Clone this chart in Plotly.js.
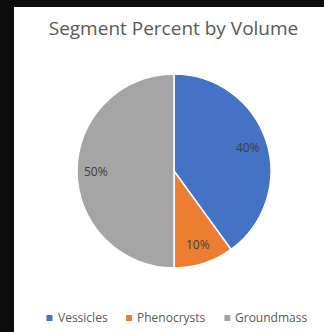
<!DOCTYPE html>
<html>
<head>
<meta charset="utf-8">
<script src="https://cdn.plot.ly/plotly-3.0.1.min.js"></script>
<style>
  html, body { margin: 0; padding: 0; background: #0d0d0d; width: 324px; height: 332px; overflow: hidden; }
  #chart { position: absolute; left: 14px; top: 7px; width: 310px; height: 325px; background: #fff; }
</style>
</head>
<body>
<div id="chart"></div>
<script>
// Segment categories and their share of the total volume (%)
const segments = ["Vessicles", "Phenocrysts", "Groundmass"];
const percents = [40, 10, 50];
const sliceColors = ["#4472C4", "#ED7D31", "#A5A5A5"];

const FONT = "Open Sans, sans-serif";
const TEXT_GREY = "#595959";

// Pie geometry inside the 310x325 chart box (pixels from top-left)
const W = 310, H = 325;
const cxPx = 160, cyPx = 164, rPx = 97;
const px2x = (px) => px / W;
const px2y = (py) => 1 - py / H;
const dom = {
  x: [px2x(cxPx - rPx), px2x(cxPx + rPx)],
  y: [px2y(cyPx + rPx), px2y(cyPx - rPx)]
};

// Percentage labels sit at ~80% of the radius, on each slice's mid-angle
const total = percents.reduce((a, b) => a + b, 0);
let cum = 0;
const annotations = percents.map((v) => {
  const mid = (cum + v / 2) / total * 2 * Math.PI;
  cum += v;
  const d = 0.8 * rPx;
  return {
    xref: "paper", yref: "paper",
    x: px2x(cxPx + d * Math.sin(mid)), xanchor: "center",
    y: px2y(cyPx - d * Math.cos(mid)), yanchor: "middle",
    text: v + "%",
    showarrow: false,
    font: { family: FONT, size: 12, color: "#404040" }
  };
});

// Compact legend row below the pie: small square key + label, centred
const legendFontSize = 12;
const keySize = 6, keyGap = 5, itemGap = 19;
const legendCenterPx = 163, legendMidYPx = 310;
const ctx = document.createElement("canvas").getContext("2d");
ctx.font = legendFontSize + "px 'Open Sans'";
const widths = segments.map((s) => ctx.measureText(s).width);
const itemWidths = widths.map((w) => keySize + keyGap + w);
const rowWidth = itemWidths.reduce((a, b) => a + b, 0) + itemGap * (segments.length - 1);
let xCursor = legendCenterPx - rowWidth / 2;
const shapes = [];
segments.forEach((s, i) => {
  shapes.push({
    type: "rect", xref: "paper", yref: "paper",
    x0: px2x(xCursor), x1: px2x(xCursor + keySize),
    y0: px2y(legendMidYPx + 4), y1: px2y(legendMidYPx + 4 - keySize),
    fillcolor: sliceColors[i], line: { width: 0 }
  });
  annotations.push({
    xref: "paper", yref: "paper",
    x: px2x(xCursor + keySize + keyGap), xanchor: "left",
    y: px2y(legendMidYPx), yanchor: "middle",
    text: s, showarrow: false,
    xshift: -2,
    font: { family: FONT, size: legendFontSize, color: TEXT_GREY }
  });
  xCursor += itemWidths[i] + itemGap;
});

const trace = {
  type: "pie",
  labels: segments,
  values: percents,
  sort: false,
  direction: "clockwise",
  rotation: 0,
  textinfo: "none",
  hoverinfo: "label+percent",
  marker: { colors: sliceColors, line: { color: "#ffffff", width: 1.5 } },
  domain: dom
};

const layout = {
  width: W, height: H,
  margin: { l: 0, r: 0, t: 0, b: 0 },
  paper_bgcolor: "#ffffff",
  title: {
    text: "Segment Percent by Volume",
    x: px2x(159.5), xanchor: "center",
    y: px2y(21), yanchor: "middle",
    font: { family: FONT, size: 19, color: TEXT_GREY }
  },
  showlegend: false,
  shapes: shapes,
  annotations: annotations
};

Plotly.newPlot("chart", [trace], layout, { displayModeBar: false, staticPlot: true });
</script>
</body>
</html>
